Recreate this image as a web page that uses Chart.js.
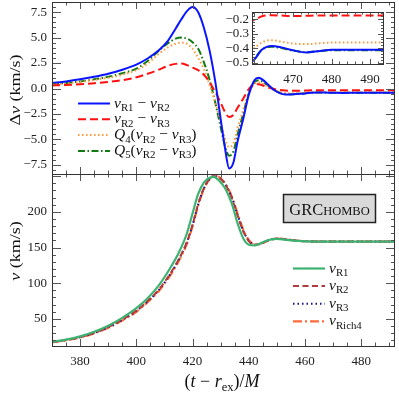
<!DOCTYPE html>
<html>
<head>
<meta charset="utf-8">
<script src="https://cdn.jsdelivr.net/npm/chart.js@4.4.0/dist/chart.umd.min.js"></script>
<style>
  html, body { margin: 0; padding: 0; background: #fff; }
  #wrap { position: relative; width: 399px; height: 393px; }
  #main { position: absolute; left: 0; top: 0; }
  #inset { position: absolute; left: 200px; top: 0; }
</style>
</head>
<body>
<div id="wrap">
  <canvas id="main" width="399" height="393"></canvas>
  <canvas id="inset" width="199" height="92"></canvas>
</div>
<script>
// ---- top panel: velocity differences ----
const tTop = [370, 375, 380, 385, 390, 395, 400, 404, 408, 411, 414, 416, 418, 420, 422, 424, 426, 428, 430, 431.5,
              433, 434.5, 436, 438, 440, 442, 443.5, 445, 447, 449, 451, 453, 455, 458, 460, 462, 464.5, 467, 470, 473.5,
              477, 480, 485, 494];
const dR1R2 = [0.55, 0.7, 0.9, 1.15, 1.45, 1.85, 2.35, 2.95, 3.75, 4.6, 5.9, 6.8, 7.6, 8.0, 7.5, 6.0, 3.8, 0.8, -3.0, -5.8,
               -7.85, -7.3, -5.2, -3.0, -0.6, 0.8, 1.05, 0.85, 0.35, -0.15, -0.45, -0.58, -0.58, -0.52, -0.48, -0.41, -0.385, -0.395, -0.415, -0.43,
               -0.42, -0.412, -0.412, -0.412];
const dR2R3 = [0.3, 0.35, 0.42, 0.52, 0.65, 0.82, 1.1, 1.45, 1.85, 2.2, 2.42, 2.45, 2.3, 2.05, 1.8, 1.35, 0.65, -0.3, -1.4, -2.3,
               -2.8, -2.6, -1.9, -1.0, -0.05, 0.4, 0.42, 0.3, 0.1, -0.05, -0.15, -0.2, -0.22, -0.215, -0.205, -0.18, -0.172, -0.175, -0.178, -0.176,
               -0.174, -0.175, -0.175, -0.175];
const dQ4 = [0.4, 0.5, 0.65, 0.85, 1.05, 1.35, 1.8, 2.45, 3.4, 4.0, 4.4, 4.5, 4.4, 3.9, 3.0, 1.9, 0.4, -1.3, -3.3, -4.9,
             -5.75, -5.4, -3.9, -2.1, -0.45, 0.45, 0.6, 0.5, 0.15, -0.15, -0.35, -0.45, -0.46, -0.43, -0.4, -0.36, -0.345, -0.355, -0.368, -0.372,
             -0.366, -0.362, -0.362, -0.362];
const dQ5 = [0.45, 0.55, 0.7, 0.9, 1.15, 1.5, 1.95, 2.7, 3.7, 4.4, 4.9, 5.0, 4.9, 4.55, 3.9, 2.6, 0.9, -1.3, -3.8, -5.6,
             -6.6, -6.2, -4.5, -2.5, -0.5, 0.6, 0.8, 0.65, 0.25, -0.15, -0.42, -0.55, -0.56, -0.51, -0.47, -0.41, -0.39, -0.4, -0.418, -0.428,
             -0.42, -0.414, -0.414, -0.414];

// ---- bottom panel: recoil velocity ----
const tBot = [370, 375, 380, 385, 390, 395, 400, 404, 408, 412, 415, 418, 420, 422, 424, 426, 427.5, 429, 430.5, 432,
              434, 436, 438, 440, 442, 444, 446, 448, 450, 452, 455, 460, 470, 480, 494];
const vR1 = [18, 21, 25.5, 32, 40.5, 51.5, 65, 79, 97, 121, 142, 170, 198, 225, 241, 247.5, 249, 245.5, 239, 230,
             211, 184, 163, 154, 153, 155.5, 159, 161.5, 162, 161.5, 160, 158.7, 158.3, 158.3, 158.3];
const vR2 = [17.5, 20.5, 24.5, 30.5, 38.5, 49, 61.5, 75, 91, 113, 133, 158, 182, 211, 233, 246, 250, 249, 244, 236,
             219, 195, 173, 159, 154, 155, 158.5, 161.5, 162.5, 162, 160.5, 158.8, 158.3, 158.3, 158.3];
const vR3 = [17.5, 20.5, 24.3, 30.2, 38.2, 48.6, 61, 74.5, 90.5, 112.5, 132.5, 157.5, 181.5, 210.5, 232.5, 245.8, 250, 249.2, 244.3, 236.5,
             219.5, 195.8, 173.5, 159.5, 154, 155, 158.4, 161.4, 162.4, 162, 160.5, 158.8, 158.3, 158.3, 158.3];
const vRich4 = [17, 20, 23.8, 29.6, 37.5, 47.8, 60, 73.5, 89, 110.5, 130.5, 155.5, 180, 209, 231.5, 245.5, 250, 249.6, 245, 237.5,
                221, 198, 175.5, 160.5, 154.5, 155, 158.2, 161.2, 162.5, 162.2, 160.6, 158.9, 158.3, 158.3, 158.3];

// ---- tick labels ----
const xTickLabels = [380, 400, 420, 440, 460, 480];
const yTopTickLabels = [-7.5, -5, -2.5, 0, 2.5, 5, 7.5];
const yBotTickLabels = [50, 100, 150, 200];
const xInsetTickLabels = [470, 480, 490];
const yInsetTickLabels = [-0.5, -0.4, -0.3, -0.2];

// legend texts: [text, style]  i = italic, r = roman, s = subscript
const topLegend = [
  [['v', 'i'], ['R1', 's'], [' − ', 'r'], ['v', 'i'], ['R2', 's']],
  [['v', 'i'], ['R2', 's'], [' − ', 'r'], ['v', 'i'], ['R3', 's']],
  [['Q', 'i'], ['4', 's'], ['(', 'r'], ['v', 'i'], ['R2', 's'], [' − ', 'r'], ['v', 'i'], ['R3', 's'], [')', 'r']],
  [['Q', 'i'], ['5', 's'], ['(', 'r'], ['v', 'i'], ['R2', 's'], [' − ', 'r'], ['v', 'i'], ['R3', 's'], [')', 'r']]
];
const botLegend = [
  [['v', 'i'], ['R1', 's']],
  [['v', 'i'], ['R2', 's']],
  [['v', 'i'], ['R3', 's']],
  [['v', 'i'], ['Rich4', 's']]
];

const SERIF = "'Liberation Serif', 'DejaVu Serif', serif";

function pts(t, v) { return t.map((x, i) => ({ x: x, y: v[i] })); }
function minus(v, d) { return (v < 0 ? '−' : '') + Math.abs(v).toFixed(d); }

function line(data, axis, color, dash, width) {
  return {
    data: data, yAxisID: axis, borderColor: color, borderDash: dash, borderWidth: width,
    pointRadius: 0, fill: false, cubicInterpolationMode: 'monotone', borderCapStyle: 'butt'
  };
}

const topSets = [
  line(pts(tTop, dR1R2), 'yTop', '#0a14ff', [], 2),
  line(pts(tTop, dR2R3), 'yTop', '#ff1010', [8, 4], 2),
  line(pts(tTop, dQ4), 'yTop', '#ff9a3c', [1.5, 2.5], 2),
  line(pts(tTop, dQ5), 'yTop', '#127a12', [7, 2.5, 1.5, 2.5], 2)
];
const botSets = [
  line(pts(tBot, vR1), 'yBot', '#3cb371', [], 2.2),
  line(pts(tBot, vR2), 'yBot', '#b23a3a', [6, 3.5], 2),
  line(pts(tBot, vR3), 'yBot', '#14148c', [1.5, 3], 2),
  line(pts(tBot, vRich4), 'yBot', '#ff6a3d', [9, 3, 2, 3], 2.2)
];

function fixAxis(size, horizontal) {
  return function (s) {
    if (horizontal) s.height = size; else s.width = size;
    s.paddingTop = 0; s.paddingBottom = 0; s.paddingLeft = 0; s.paddingRight = 0;
  };
}

function drawParts(ctx, parts, x, y, size, align) {
  const fontOf = st => (st === 'i' ? 'italic ' : '') + (st === 's' ? size * 0.7 : size) + 'px ' + SERIF;
  let w = 0;
  for (const [t, st] of parts) { ctx.font = fontOf(st); w += ctx.measureText(t).width; }
  let cx = align === 'center' ? x - w / 2 : x;
  ctx.textAlign = 'left';
  ctx.textBaseline = 'alphabetic';
  for (const [t, st] of parts) {
    ctx.font = fontOf(st);
    ctx.fillText(t, cx, y + (st === 's' ? size * 0.22 : 0));
    cx += ctx.measureText(t).width;
  }
  return w;
}

function drawFrame(ctx, xs, ys, o) {
  const L = Math.round(xs.left), R = Math.round(xs.right), T = Math.round(ys.top), B = Math.round(ys.bottom);
  ctx.save();
  ctx.setLineDash([]);
  ctx.strokeStyle = '#555';
  ctx.lineWidth = 1;
  ctx.beginPath();
  const nx = Math.round(o.xMajor / o.xMinor), ny = Math.round(o.yMajor / o.yMinor);
  for (let k = Math.ceil(xs.min / o.xMinor - 1e-9); k * o.xMinor <= xs.max + 1e-9; k++) {
    const p = Math.round(xs.getPixelForValue(k * o.xMinor)) + 0.5;
    const len = k % nx === 0 ? o.maj : o.min;
    ctx.moveTo(p, B); ctx.lineTo(p, B - len);
    ctx.moveTo(p, T); ctx.lineTo(p, T + len);
  }
  for (let k = Math.ceil(ys.min / o.yMinor - 1e-9); k * o.yMinor <= ys.max + 1e-9; k++) {
    const p = Math.round(ys.getPixelForValue(k * o.yMinor)) + 0.5;
    const len = k % ny === 0 ? o.majY : o.minY;
    ctx.moveTo(L, p); ctx.lineTo(L + len, p);
    ctx.moveTo(R, p); ctx.lineTo(R - len, p);
  }
  ctx.stroke();
  ctx.strokeStyle = '#333';
  ctx.strokeRect(L + 0.5, T + 0.5, R - L - 1, B - T);
  ctx.restore();
}

function drawLegend(ctx, sets, labels, x0, x1, tx, ys, size) {
  sets.forEach((ds, i) => {
    const y = ys[i];
    ctx.save();
    ctx.strokeStyle = ds.borderColor;
    ctx.lineWidth = ds.borderWidth;
    ctx.setLineDash(ds.borderDash);
    ctx.beginPath();
    ctx.moveTo(x0, y); ctx.lineTo(x1, y);
    ctx.stroke();
    ctx.restore();
    ctx.fillStyle = '#111';
    drawParts(ctx, labels[i], tx, y + 4, size, 'left');
  });
}

const figurePlugin = {
  id: 'figure',
  afterDraw(chart) {
    const ctx = chart.ctx;
    const xs = chart.scales.x, yt = chart.scales.yTop, yb = chart.scales.yBot;
    drawFrame(ctx, xs, yt, { xMinor: 5, xMajor: 20, yMinor: 0.5, yMajor: 2.5, maj: 7, min: 3.5, majY: 9, minY: 4 });
    drawFrame(ctx, xs, yb, { xMinor: 5, xMajor: 20, yMinor: 10, yMajor: 50, maj: 7, min: 3.5, majY: 9, minY: 4 });

    drawLegend(ctx, topSets, topLegend, 78, 110, 114, [103.5, 119.3, 135.1, 150.9], 15.5);
    drawLegend(ctx, botSets, botLegend, 293, 325, 329, [268.5, 286, 303.8, 321.3], 15.5);

    // code label box
    ctx.save();
    ctx.fillStyle = '#d9d9d9';
    ctx.fillRect(283.5, 194.5, 92, 28);
    ctx.strokeStyle = '#222';
    ctx.lineWidth = 1.5;
    ctx.strokeRect(283.5, 194.5, 92, 28);
    ctx.fillStyle = '#111';
    ctx.textBaseline = 'alphabetic';
    ctx.font = '16.5px ' + SERIF;
    const w1 = ctx.measureText('GRC').width;
    ctx.font = '12.5px ' + SERIF;
    const w2 = ctx.measureText('HOMBO').width;
    const sx = 329.5 - (w1 + w2) / 2;
    ctx.font = '16.5px ' + SERIF;
    ctx.textAlign = 'left';
    ctx.fillText('GRC', sx, 214.5);
    ctx.font = '12.5px ' + SERIF;
    ctx.fillText('HOMBO', sx + w1, 214.5);
    ctx.restore();

    // axis titles
    ctx.fillStyle = '#111';
    [[90, [['Δ', 'r'], ['v', 'i'], [' (km/s)', 'r']]], [251, [['v', 'i'], [' (km/s)', 'r']]]].forEach(([cy, parts]) => {
      ctx.save();
      ctx.translate(15, cy);
      ctx.rotate(-Math.PI / 2);
      ctx.scale(1, 0.8);
      drawParts(ctx, parts, 0, 6, 18, 'center');
      ctx.restore();
    });
    drawParts(ctx, [['(', 'r'], ['t', 'i'], [' − ', 'r'], ['r', 'i'], ['ex', 's'], [')/', 'r'], ['M', 'i']], 222, 387, 18, 'center');
  }
};

const tickFont = { family: SERIF, size: 13 };

new Chart(document.getElementById('main'), {
  type: 'line',
  data: { datasets: topSets.concat(botSets) },
  options: {
    responsive: false,
    animation: false,
    layout: { padding: { top: 2, right: 4, left: 0, bottom: 0 } },
    plugins: { legend: { display: false }, tooltip: { enabled: false } },
    scales: {
      x: {
        type: 'linear', position: 'bottom', min: 370, max: 492,
        grid: { display: false, drawTicks: false }, border: { display: false },
        ticks: {
          stepSize: 20, includeBounds: false, autoSkip: false, maxRotation: 0, padding: 8,
          font: tickFont, color: '#222',
          callback: v => xTickLabels.includes(v) ? String(v) : ''
        },
        afterFit: fixAxis(47, true)
      },
      yBot: {
        type: 'linear', position: 'left', stack: 'panels', stackWeight: 1, min: 12, max: 253,
        grid: { display: false, drawTicks: false }, border: { display: false },
        ticks: {
          stepSize: 50, includeBounds: false, autoSkip: false, padding: 5,
          font: tickFont, color: '#222',
          callback: v => yBotTickLabels.includes(v) ? String(v) : ''
        },
        afterFit: fixAxis(52, false)
      },
      yTop: {
        type: 'linear', position: 'left', stack: 'panels', stackWeight: 1, min: -8.4, max: 8.5,
        grid: { display: false, drawTicks: false }, border: { display: false },
        ticks: {
          stepSize: 2.5, includeBounds: false, autoSkip: false, padding: 5,
          font: tickFont, color: '#222',
          callback: v => yTopTickLabels.includes(v) ? minus(v, 1) : ''
        },
        afterFit: fixAxis(52, false)
      }
    }
  },
  plugins: [figurePlugin]
});

// ---- inset ----
const insetSets = [
  line(pts(tTop, dR1R2), 'y', '#0a14ff', [], 2),
  line(pts(tTop, dR2R3), 'y', '#ff1010', [8, 4], 2),
  line(pts(tTop, dQ4), 'y', '#ff9a3c', [1.5, 2.5], 2),
  line(pts(tTop, dQ5), 'y', '#127a12', [7, 2.5, 1.5, 2.5], 2)
];

const insetPlugin = {
  id: 'insetFrame',
  beforeDatasetsDraw(chart) {
    const a = chart.chartArea;
    chart.ctx.save();
    chart.ctx.fillStyle = '#fff';
    chart.ctx.fillRect(a.left, a.top, a.right - a.left, a.bottom - a.top);
    chart.ctx.restore();
  },
  afterDraw(chart) {
    drawFrame(chart.ctx, chart.scales.x, chart.scales.y,
      { xMinor: 2, xMajor: 10, yMinor: 0.02, yMajor: 0.1, maj: 5, min: 2.5, majY: 6, minY: 3 });
  }
};

new Chart(document.getElementById('inset'), {
  type: 'line',
  data: { datasets: insetSets },
  options: {
    responsive: false,
    animation: false,
    layout: { padding: { top: 12, right: 15, left: 0, bottom: 0 } },
    plugins: { legend: { display: false }, tooltip: { enabled: false } },
    scales: {
      x: {
        type: 'linear', min: 459.4, max: 493.6,
        grid: { display: false, drawTicks: false }, border: { display: false },
        ticks: {
          stepSize: 10, includeBounds: false, autoSkip: false, maxRotation: 0, padding: 8,
          font: tickFont, color: '#222',
          callback: v => xInsetTickLabels.includes(v) ? String(v) : ''
        },
        afterFit: fixAxis(28, true)
      },
      y: {
        type: 'linear', min: -0.51, max: -0.15,
        grid: { display: false, drawTicks: false }, border: { display: false },
        ticks: {
          stepSize: 0.1, includeBounds: false, autoSkip: false, padding: 3,
          font: tickFont, color: '#222',
          callback: v => yInsetTickLabels.some(t => Math.abs(t - v) < 1e-6) ? minus(v, 1) : ''
        },
        afterFit: fixAxis(52, false)
      }
    }
  },
  plugins: [insetPlugin]
});
</script>
</body>
</html>
